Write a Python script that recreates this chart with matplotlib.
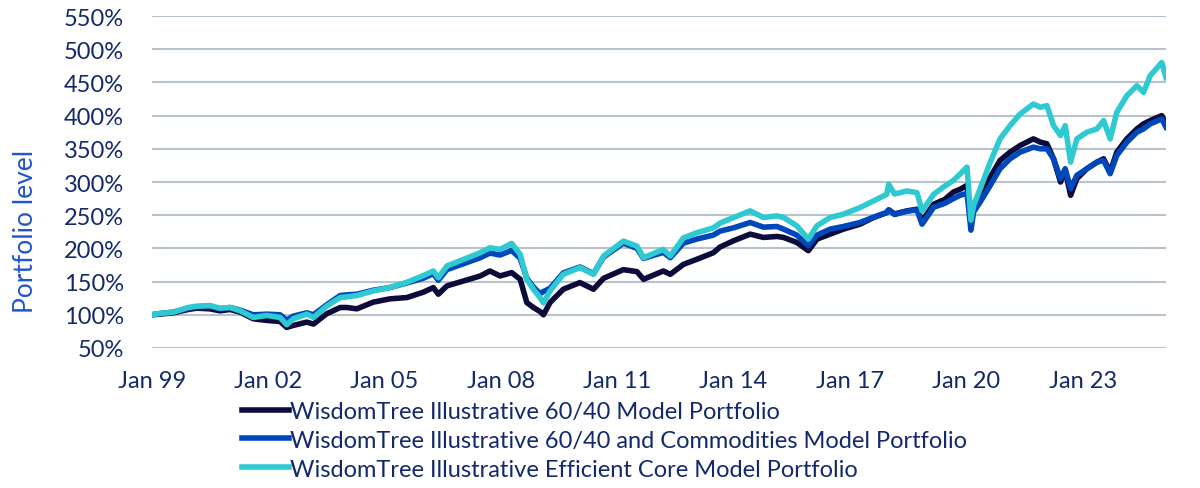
import matplotlib
matplotlib.use("Agg")
import matplotlib.pyplot as plt

# decimal year of each reading, values in % of starting level
years = [1999.0, 1999.21, 1999.56, 1999.94, 2000.16, 2000.5, 2000.76, 2001.02, 2001.28, 2001.62,
         2001.97, 2002.31, 2002.48, 2002.65, 2003.0, 2003.17, 2003.51, 2003.86, 2004.03, 2004.29,
         2004.71, 2005.14, 2005.58, 2006.0, 2006.26, 2006.39, 2006.61, 2007.04, 2007.47, 2007.72,
         2007.98, 2008.28, 2008.5, 2008.67, 2008.84, 2009.01, 2009.1, 2009.27, 2009.61, 2010.04,
         2010.39, 2010.65, 2011.16, 2011.51, 2011.68, 2012.19, 2012.37, 2012.71, 2013.05, 2013.48,
         2013.65, 2014.0, 2014.43, 2014.77, 2015.12, 2015.29, 2015.63, 2015.93, 2016.15, 2016.49,
         2016.83, 2017.26, 2017.61, 2017.95, 2018.0, 2018.15, 2018.47, 2018.73, 2018.86, 2019.16,
         2019.45, 2019.67, 2019.84, 2020.02, 2020.12, 2020.19, 2020.36, 2020.62, 2020.87, 2021.13,
         2021.39, 2021.73, 2021.91, 2022.08, 2022.25, 2022.43, 2022.55, 2022.69, 2022.85, 2023.11,
         2023.37, 2023.54, 2023.71, 2023.88, 2024.14, 2024.4, 2024.57, 2024.74, 2025.04, 2025.15]

port_6040 = [100, 101, 103, 108, 110, 109, 106, 108, 104, 94,
             91.5, 90, 81, 84, 89, 86, 101.5, 111, 111, 109,
             119, 124, 126, 134, 141, 131, 143.5, 151, 158.5, 166,
             158.5, 163.5, 153.5, 118.5, 111, 105, 100, 118.5, 138.5, 148.5,
             138.5, 155, 168, 165, 153.5, 166, 161, 176, 183.5, 193.5,
             202, 211.5, 221.5, 216.5, 218, 216.5, 209, 196.5, 214, 221.5,
             229, 236.5, 246.5, 254, 258, 252, 256.5, 259, 241.5, 266.5,
             274, 285, 289, 295, 245, 265, 280, 307.5, 332.5, 345,
             355, 365, 360, 357.5, 335, 300, 317.5, 280, 305, 320,
             330, 335, 315, 345, 365, 380, 387.5, 392.5, 400, 387.5]

port_commod = [100, 102, 104, 110, 112, 113, 109, 111, 107, 100,
               101, 100, 92, 98, 103, 100, 115, 129, 130, 131,
               137, 141, 148, 155, 162, 152, 168, 177, 186, 193,
               190, 197, 185, 155, 142, 132, 135, 140, 163, 172,
               162, 187, 208, 200, 185, 194, 186, 208, 214, 220,
               226, 231, 239, 232, 233, 229, 220, 204, 220, 229,
               233, 239, 247, 254, 258, 251, 256, 258, 236.5, 262,
               268, 275, 280, 283, 227.5, 255, 270, 295, 320, 335,
               345, 352.5, 350, 350, 335, 305, 320, 290, 310, 320,
               330, 332.5, 312.5, 340, 360, 375, 380, 387.5, 395, 382.5]

port_core = [100, 102, 104, 111, 113, 114, 110, 111, 106, 96,
             99, 96, 85, 94, 101, 96, 113, 126, 127, 129,
             136, 141, 149, 159, 166, 156, 173.5, 183.5, 193.5, 201,
             198.5, 207.5, 191, 153.5, 138.5, 126, 118, 136, 161, 171,
             161, 188.5, 211, 203.5, 186, 198.5, 188.5, 216, 223.5, 231,
             238, 246.5, 256.5, 246.5, 249, 246.5, 234, 214, 234, 246.5,
             251.5, 261.5, 271.5, 281.5, 296.5, 282, 286.5, 284, 256.5, 281.5,
             294, 302.5, 312, 322.5, 242.5, 265, 290, 330, 365, 385,
             402.5, 417.5, 412.5, 415, 385, 370, 385, 330, 365, 375,
             380, 392.5, 365, 405, 430, 445, 435, 460, 480, 457.5]

tick_years = [1999, 2002, 2005, 2008, 2011, 2014, 2017, 2020, 2023]
tick_labels = ["Jan 99", "Jan 02", "Jan 05", "Jan 08", "Jan 11", "Jan 14", "Jan 17", "Jan 20", "Jan 23"]
y_ticks = list(range(50, 551, 50))

navy = "#0d0b3b"
blue = "#0047bb"
cyan = "#2ec9d1"
text_col = "#13296b"

plt.rcParams["font.family"] = ["Lato", "DejaVu Sans"]

fig = plt.figure(figsize=(12, 4.89), dpi=100)
ax = fig.add_axes([0.1264, 0.2863, 0.8453, 0.6789])

l1, = ax.plot(years, port_6040, color=navy, lw=4, solid_joinstyle="round", zorder=3,
              label="WisdomTree Illustrative 60/40 Model Portfolio")
l2, = ax.plot(years, port_commod, color=blue, lw=4, solid_joinstyle="round", zorder=4,
              label="WisdomTree Illustrative 60/40 and Commodities Model Portfolio")
l3, = ax.plot(years, port_core, color=cyan, lw=4, solid_joinstyle="round", zorder=5,
              label="WisdomTree Illustrative Efficient Core Model Portfolio")

ax.set_xlim(1999.0, 2025.15)
ax.set_ylim(50, 550)
ax.set_yticks(y_ticks)
ax.set_yticklabels([f"{v}%" for v in y_ticks])
ax.set_xticks(tick_years)
ax.set_xticklabels(tick_labels)
ax.grid(axis="y", color="#b9c3cd", lw=1.5)
ax.set_axisbelow(True)
for s in ax.spines.values():
    s.set_visible(False)
ax.tick_params(axis="both", length=0, labelsize=17, colors=text_col)
ax.tick_params(axis="x", pad=16)
ax.tick_params(axis="y", pad=20)
ax.set_ylabel("Portfolio level", fontsize=19, color="#1f56c9")
ax.yaxis.set_label_coords(-0.112, 0.355)

fig.legend(handles=[l1, l2, l3], loc="upper left", bbox_to_anchor=(0.2017, 0.178),
           frameon=False, fontsize=17, labelcolor=text_col, handlelength=2.0,
           handletextpad=0.05, labelspacing=0.33, borderpad=0, borderaxespad=0)

fig.savefig("out.png", dpi=100)
